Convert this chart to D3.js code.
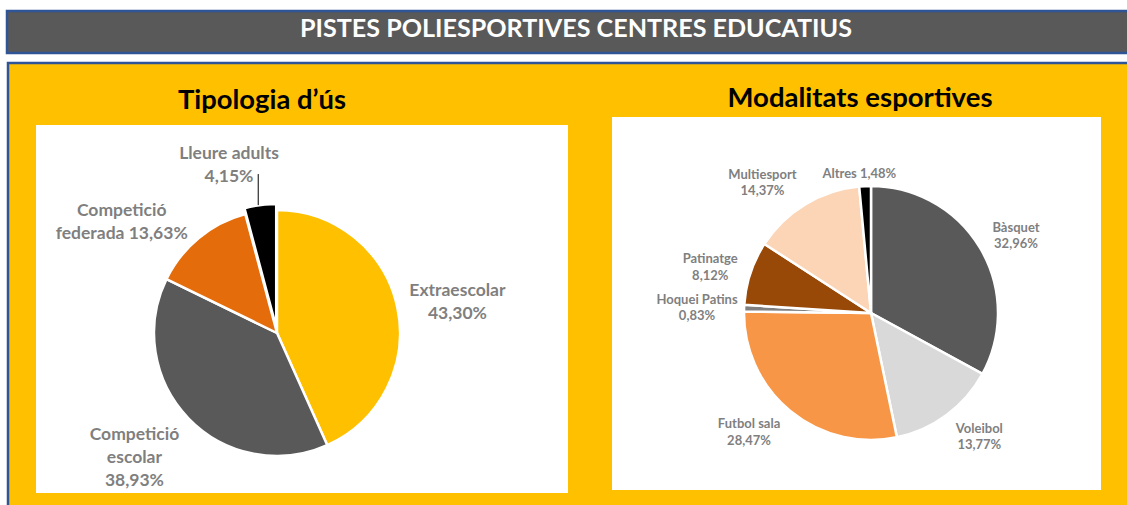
<!DOCTYPE html>
<html>
<head>
<meta charset="utf-8">
<script src="https://cdn.jsdelivr.net/npm/d3@7"></script>
<style>
  body { margin: 0; background: #fff; }
  text { font-family: Lato, "Open Sans", sans-serif; font-weight: bold; }
</style>
</head>
<body>
<div id="chart"></div>
<script>
// Tipologia d'us
const usCategories = ["Extraescolar", "Competició escolar", "Competició federada", "Lleure adults"];
const usValues = [43.30, 38.93, 13.63, 4.15];
const usLabelLines = ["Extraescolar|{v}", "Competició|escolar|{v}", "Competició|federada {v}", "Lleure adults|{v}"];

// Modalitats esportives
const modCategories = ["Bàsquet", "Voleibol", "Futbol sala", "Hoquei Patins", "Patinatge", "Multiesport", "Altres"];
const modValues = [32.96, 13.77, 28.47, 0.83, 8.12, 14.37, 1.48];
const modLabelLines = ["Bàsquet|{v}", "Voleibol|{v}", "Futbol sala|{v}", "Hoquei Patins|{v}", "Patinatge|{v}", "Multiesport|{v}", "Altres {v}"];

const W = 1127, H = 505;
const pct = v => d3.format(".2f")(v).replace(".", ",") + "%";

const svg = d3.select("#chart").append("svg")
    .attr("width", W)
    .attr("height", H);

//header bar
svg.append("rect")
    .attr("x", 7).attr("y", 11)
    .attr("width", W + 10).attr("height", 42)
    .attr("fill", "#595959")
    .attr("stroke", "#2F5597").attr("stroke-width", 2.5);
svg.append("text")
    .attr("x", 576).attr("y", 37)
    .attr("text-anchor", "middle")
    .attr("fill", "#fff")
    .attr("font-size", 25)
    .attr("textLength", 552).attr("lengthAdjust", "spacingAndGlyphs")
    .text("PISTES POLIESPORTIVES CENTRES EDUCATIUS");

//yellow panel
svg.append("rect")
    .attr("x", 8).attr("y", 63)
    .attr("width", W + 10).attr("height", H)
    .attr("fill", "#FFC000")
    .attr("stroke", "#2F5597").attr("stroke-width", 2.5);

//white plot areas
svg.append("rect").attr("x", 36).attr("y", 125).attr("width", 532).attr("height", 368).attr("fill", "#fff");
svg.append("rect").attr("x", 612).attr("y", 117).attr("width", 489).attr("height", 373).attr("fill", "#fff");

//titles
svg.append("text")
    .attr("x", 262).attr("y", 109)
    .attr("text-anchor", "middle").attr("font-size", 26)
    .attr("textLength", 168).attr("lengthAdjust", "spacingAndGlyphs")
    .text("Tipologia d’ús");
svg.append("text")
    .attr("x", 860).attr("y", 107)
    .attr("text-anchor", "middle").attr("font-size", 26)
    .attr("textLength", 265).attr("lengthAdjust", "spacingAndGlyphs")
    .text("Modalitats esportives");

function drawPie(cfg) {
    const data = cfg.categories.map((c, i) => ({cat: c, value: cfg.values[i], lines: cfg.lines[i]}));
    const color = d3.scaleOrdinal().domain(cfg.categories).range(cfg.colors);
    const pie = d3.pie().sort(null).value(d => d.value);
    const arc = d3.arc().innerRadius(0).outerRadius(cfg.r);
    const labelArc = d3.arc().innerRadius(cfg.r * cfg.lf).outerRadius(cfg.r * cfg.lf);

    const g = svg.append("g").attr("transform", `translate(${cfg.cx},${cfg.cy})`);
    const arcs = pie(data);

    const off = d => {
        const e = cfg.explode[d.data.cat] || 0;
        const a = (d.startAngle + d.endAngle) / 2;
        return [Math.sin(a) * e, -Math.cos(a) * e];
    };

    g.selectAll("path.slice")
        .data(arcs)
        .enter().append("path")
        .attr("class", "slice")
        .attr("d", arc)
        .attr("transform", d => `translate(${off(d)})`)
        .attr("fill", d => color(d.data.cat))
        .attr("stroke", "#fff")
        .attr("stroke-width", 2.5)
        .attr("stroke-linejoin", "round");

    const lab = g.selectAll("g.lab")
        .data(arcs)
        .enter().append("g")
        .attr("class", "lab")
        .attr("transform", d => {
            const c = labelArc.centroid(d);
            const n = cfg.nudge[d.data.cat] || [0, 0];
            return `translate(${c[0] + n[0]},${c[1] + n[1]})`;
        });

    lab.each(function(d) {
        const lines = d.data.lines.replace("{v}", pct(d.data.value)).split("|");
        const t = d3.select(this).append("text")
            .attr("text-anchor", "middle")
            .attr("fill", "#7F7F7F")
            .attr("font-size", cfg.fs);
        lines.forEach((l, i) => {
            t.append("tspan").attr("x", 0).attr("y", i * cfg.lh).text(l);
        });
    });

    //leader lines
    arcs.filter(d => cfg.leader.includes(d.data.cat)).forEach(d => {
        const a = (d.startAngle + d.endAngle) / 2;
        const rr = cfg.r + (cfg.explode[d.data.cat] || 0);
        const x0 = Math.sin(a) * rr, y0 = -Math.cos(a) * rr;
        const c = labelArc.centroid(d);
        const n = cfg.nudge[d.data.cat] || [0, 0];
        g.append("line")
            .attr("x1", x0 - 2).attr("y1", y0)
            .attr("x2", x0 - 2).attr("y2", c[1] + n[1] + cfg.lh - 8)
            .attr("stroke", "#000").attr("stroke-width", 1);
    });
}

drawPie({
    categories: usCategories, values: usValues, lines: usLabelLines,
    colors: ["#FFC000", "#595959", "#E46C0A", "#000000"],
    cx: 277, cy: 333, r: 123, lf: 1.5, fs: 17.5, lh: 23,
    explode: {"Lleure adults": 6},
    leader: ["Lleure adults"],
    nudge: {
        "Extraescolar": [0, 2],
        "Competició escolar": [-10, -21],
        "Competició federada": [-38, 25],
        "Lleure adults": [-24, 9]
    }
});

drawPie({
    categories: modCategories, values: modValues, lines: modLabelLines,
    colors: ["#595959", "#D9D9D9", "#F79646", "#808080", "#984807", "#FBD5B5", "#000000"],
    cx: 871, cy: 313, r: 127, lf: 1.3, fs: 13, lh: 16.5,
    explode: {},
    leader: [],
    nudge: {
        "Bàsquet": [3, 3],
        "Voleibol": [10, -13],
        "Futbol sala": [-17, -12],
        "Hoquei Patins": [-9, -3],
        "Patinatge": [-4, 2],
        "Multiesport": [-23, 7],
        "Altres": [-4, 30]
    }
});
</script>
</body>
</html>
